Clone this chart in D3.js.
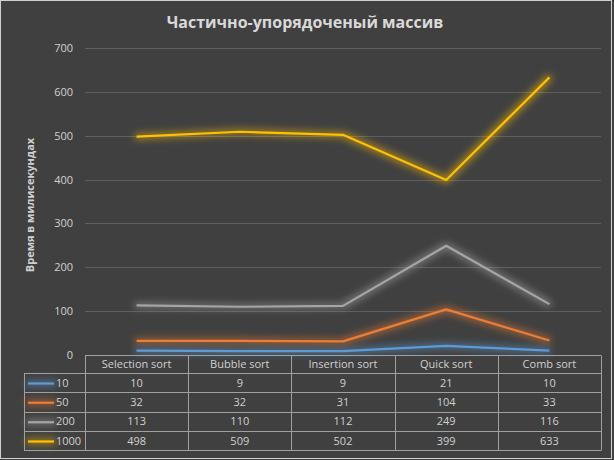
<!DOCTYPE html>
<html>
<head>
<meta charset="utf-8">
<script src="https://cdn.jsdelivr.net/npm/d3@7"></script>
<style>
  body { margin: 0; background: #404040; }
  svg { display: block; font-family: "Open Sans", "DejaVu Sans", sans-serif; }
</style>
</head>
<body>
<div id="chart"></div>
<script>
(function(){
	// data
	var categories = ["Selection sort", "Bubble sort", "Insertion sort", "Quick sort", "Comb sort"];
	var seriesNames = ["10", "50", "200", "1000"];
	var seriesColors = ["#5b9bd5", "#ed7d31", "#a5a5a5", "#ffc000"];
	var s10 = [10, 9, 9, 21, 10];
	var s50 = [32, 32, 31, 104, 33];
	var s200 = [113, 110, 112, 249, 116];
	var s1000 = [498, 509, 502, 399, 633];
	var yTicks = [0, 100, 200, 300, 400, 500, 600, 700];
	var series = [s10, s50, s200, s1000];

	var w = 614, h = 460;
	var left = 85, right = 601, top = 48, bottom = 355;
	var legendLeft = 24;
	var rowH = [18, 19, 19.5, 19.5, 19];

	var svg = d3.select("#chart").append("svg")
		.attr("width", w).attr("height", h);

	svg.append("rect")
		.attr("x", 0.5).attr("y", 0.5)
		.attr("width", w - 3).attr("height", h - 2)
		.attr("fill", "#404040")
		.attr("stroke", "#d0d0d0")
		.attr("stroke-width", 1);

	// glow filter per series (user space so flat lines still get it)
	var defs = svg.append("defs");
	seriesColors.forEach(function(c, i){
		var f = defs.append("filter").attr("id", "glow" + i)
			.attr("filterUnits", "userSpaceOnUse")
			.attr("x", 0).attr("y", 0).attr("width", w).attr("height", h);
		f.append("feMorphology").attr("in", "SourceGraphic").attr("operator", "dilate").attr("radius", 1.5).attr("result", "d");
		f.append("feGaussianBlur").attr("in", "d").attr("stdDeviation", 3.5).attr("result", "b");
		f.append("feComponentTransfer").attr("in", "b").attr("result", "b2")
			.append("feFuncA").attr("type", "linear").attr("slope", 0.5);
		var m = f.append("feMerge");
		m.append("feMergeNode").attr("in", "b2");
		m.append("feMergeNode").attr("in", "SourceGraphic");
	});

	var x = d3.scaleBand().domain(categories).range([left, right]);
	var y = d3.scaleLinear().domain([0, 700]).range([bottom, top]);

	// title
	svg.append("text")
		.attr("x", 305).attr("y", 28)
		.attr("text-anchor", "middle")
		.attr("fill", "#d9d9d9")
		.attr("font-size", 16)
		.attr("font-weight", "bold")
		.text("Частично-упорядоченый массив");

	// grid
	svg.append("g").selectAll("line")
		.data(yTicks.filter(function(d){ return d > 0; }))
		.enter().append("line")
		.attr("x1", left).attr("x2", right)
		.attr("y1", function(d){ return Math.round(y(d)) + 0.5; })
		.attr("y2", function(d){ return Math.round(y(d)) + 0.5; })
		.attr("stroke", "#5e5e5e").attr("stroke-width", 1);

	// y axis labels
	var yAxis = d3.axisLeft(y).tickValues(yTicks).tickSize(0).tickPadding(0);
	var ga = svg.append("g").attr("transform", "translate(" + (left - 12) + ",0)").call(yAxis);
	ga.select(".domain").remove();
	ga.selectAll("text")
		.attr("fill", "#d0d0d0")
		.attr("font-size", 11)
		.attr("font-family", "\"Open Sans\", \"DejaVu Sans\", sans-serif");

	svg.append("text")
		.attr("transform", "translate(34,205) rotate(-90)")
		.attr("text-anchor", "middle")
		.attr("fill", "#d0d0d0")
		.attr("font-size", 11)
		.attr("font-weight", "bold")
		.text("Время в милисекундах");

	// lines
	var line = d3.line()
		.x(function(d, i){ return x(categories[i]) + x.bandwidth() / 2; })
		.y(function(d){ return y(d); });

	svg.append("g").selectAll("path")
		.data(series)
		.enter().append("path")
		.attr("d", line)
		.attr("fill", "none")
		.attr("stroke", function(d, i){ return seriesColors[i]; })
		.attr("stroke-width", 2.2)
		.attr("stroke-linejoin", "round")
		.attr("filter", function(d, i){ return "url(#glow" + i + ")"; });

	// data table
	var rowY = [bottom];
	rowH.forEach(function(r, i){ rowY.push(rowY[i] + r); });
	var tableBottom = rowY[rowY.length - 1];
	var grid = svg.append("g").attr("stroke", "#a0a0a0").attr("stroke-width", 1).attr("fill", "none");

	// horizontal lines
	rowY.forEach(function(yy, i){
		grid.append("line")
			.attr("x1", i === 0 ? left : legendLeft).attr("x2", right)
			.attr("y1", Math.round(yy) + 0.5).attr("y2", Math.round(yy) + 0.5);
	});
	// vertical lines
	var cols = categories.map(function(c){ return x(c); }).concat([right]);
	cols.forEach(function(xx){
		grid.append("line")
			.attr("x1", Math.round(xx) + 0.5).attr("x2", Math.round(xx) + 0.5)
			.attr("y1", Math.round(bottom) + 0.5).attr("y2", Math.round(tableBottom) + 0.5);
	});
	grid.append("line")
		.attr("x1", legendLeft + 0.5).attr("x2", legendLeft + 0.5)
		.attr("y1", Math.round(rowY[1]) + 0.5).attr("y2", Math.round(tableBottom) + 0.5);

	// header
	svg.append("g").selectAll("text")
		.data(categories)
		.enter().append("text")
		.attr("x", function(d){ return x(d) + x.bandwidth() / 2; })
		.attr("y", (rowY[0] + rowY[1]) / 2 + 4)
		.attr("text-anchor", "middle")
		.attr("fill", "#d0d0d0")
		.attr("font-size", 11)
		.text(function(d){ return d; });

	// rows
	series.forEach(function(s, si){
		var cy = (rowY[si + 1] + rowY[si + 2]) / 2;
		var g = svg.append("g");
		g.append("line")
			.attr("x1", legendLeft + 4).attr("x2", legendLeft + 30)
			.attr("y1", cy + 1).attr("y2", cy + 1)
			.attr("stroke", seriesColors[si]).attr("stroke-width", 2.2)
			.attr("filter", "url(#glow" + si + ")");
		g.append("text")
			.attr("x", legendLeft + 32).attr("y", cy + 4)
			.attr("fill", "#d0d0d0").attr("font-size", 11)
			.text(seriesNames[si]);
		g.selectAll("text.v")
			.data(s)
			.enter().append("text")
			.attr("class", "v")
			.attr("x", function(d, i){ return x(categories[i]) + x.bandwidth() / 2; })
			.attr("y", cy + 4)
			.attr("text-anchor", "middle")
			.attr("fill", "#d0d0d0")
			.attr("font-size", 11)
			.text(function(d){ return d; });
	});
})();
</script>
</body>
</html>
